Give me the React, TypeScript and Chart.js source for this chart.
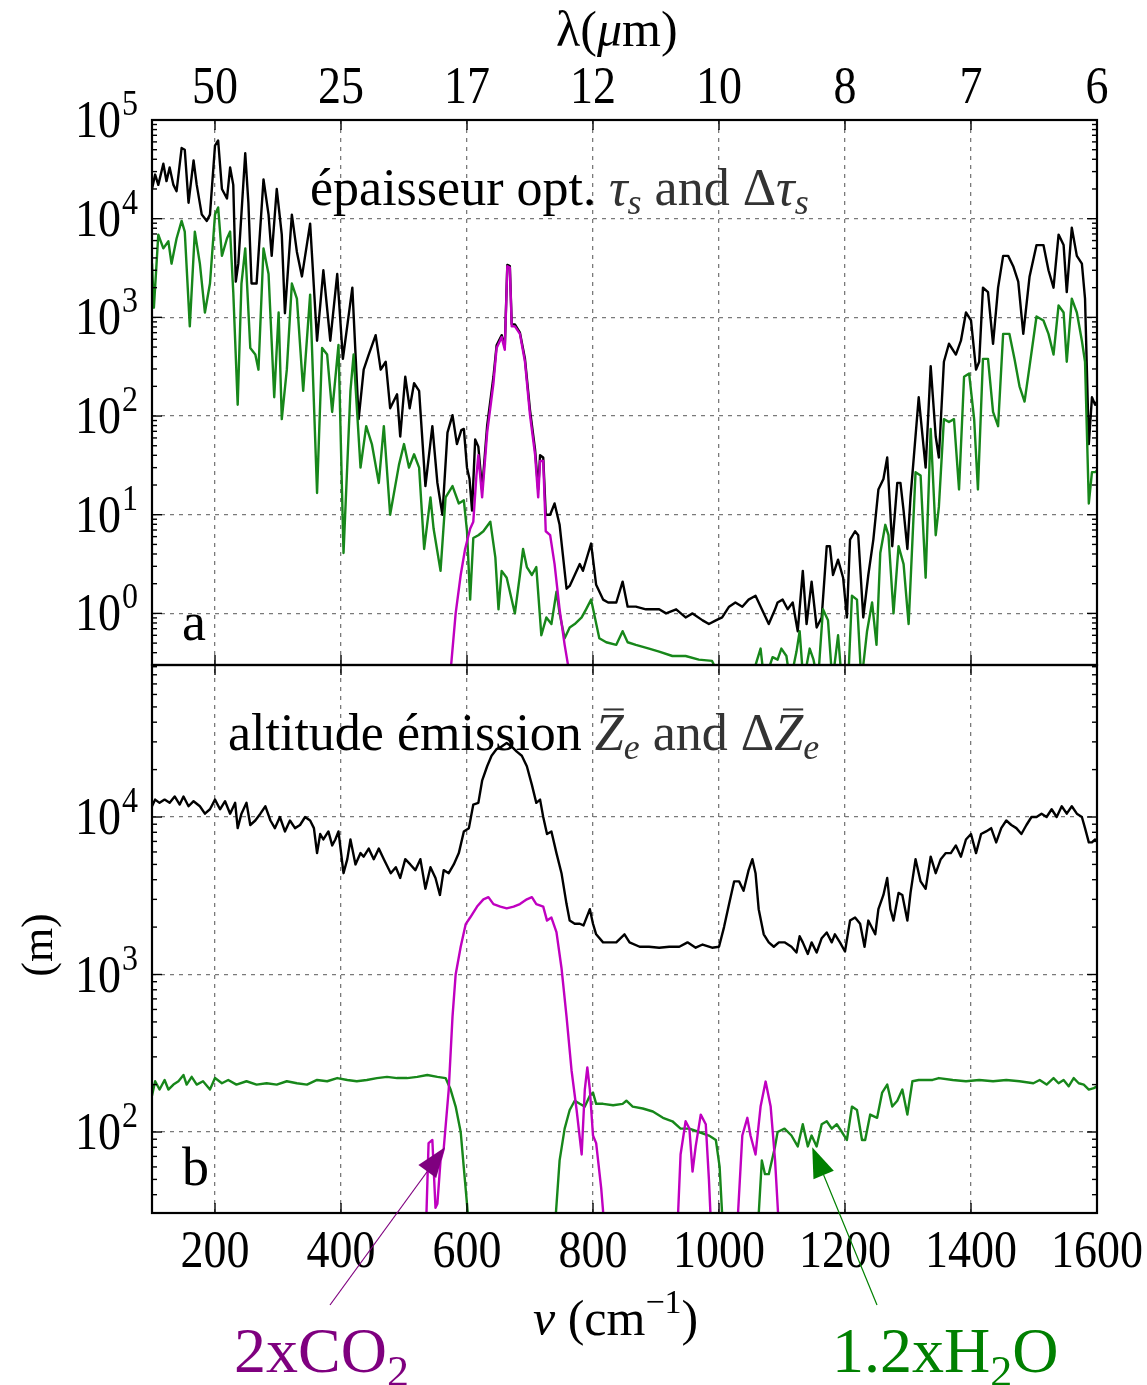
import React, { useEffect, useRef } from 'react';
import { Chart, registerables } from 'chart.js';

Chart.register(...registerables);

// ---------------- data ----------------
const xTickValues = [200, 400, 600, 800, 1000, 1200, 1400, 1600];
const xTickLabels = ['200', '400', '600', '800', '1000', '1200', '1400', '1600'];
const lambdaTickLabels = ['50', '25', '17', '12', '10', '8', '7', '6'];
const gridXValues = [200, 400, 600, 800, 1000, 1200, 1400];
const panelADecades = [1, 10, 100, 1000, 10000, 100000];
const panelBDecades = [100, 1000, 10000];

// panel a : optical thickness tau_s (black), delta tau H2O (green), delta tau CO2 (magenta)  [nu (cm-1), value]
const tauTotal: [number, number][] = [
  [100, 20000], [105, 28000], [110, 22000], [118, 36000], [123, 24000], [128, 33000], [134, 22000], [139, 19000],
  [147, 52000], [152, 50000], [158, 14500], [166, 39000], [171, 22000], [179, 11000], [187, 9500], [192, 11000],
  [200, 55000], [205, 62000], [211, 20000], [219, 16000], [224, 33000], [229, 22000], [233, 2300], [237, 3500],
  [248, 46000], [253, 14500], [258, 2200], [266, 2200], [277, 25000], [285, 11000], [290, 4200], [298, 20000],
  [306, 6900], [311, 1100], [322, 11000], [330, 4600], [338, 2600], [351, 8900], [362, 580], [372, 3000],
  [383, 580], [394, 2750], [403, 380], [418, 2000], [428, 93], [436, 295], [444, 420], [455, 660],
  [463, 295], [471, 355], [478, 120], [489, 166], [494, 62], [502, 250], [509, 120], [516, 215],
  [524, 180], [534, 19.5], [545, 79], [553, 21], [561, 10], [569, 68], [577, 102], [584, 52],
  [591, 72], [595, 74], [600, 30], [604, 23], [608, 11], [613, 58], [618, 49], [624, 18],
  [632, 80], [642, 250], [647, 520], [655, 660], [660, 500], [664, 3400], [668, 3300], [671, 850],
  [676, 850], [684, 700], [692, 380], [700, 115], [708, 46], [713, 18], [716, 40], [721, 38],
  [725, 10], [732, 10], [739, 13], [747, 7.9], [758, 1.78], [763, 1.9], [771, 2.45], [779, 3.16],
  [784, 2.7], [792, 4.0], [797, 5.1], [805, 1.95], [816, 1.38], [824, 1.29], [837, 1.29], [847, 2.1],
  [855, 1.17], [868, 1.17], [884, 1.1], [905, 1.1], [916, 1.0], [932, 1.1], [947, 0.91], [958, 1.0],
  [974, 0.85], [984, 0.78], [995, 0.85], [1005, 0.91], [1016, 1.17], [1026, 1.29], [1037, 1.17], [1047, 1.38],
  [1058, 1.51], [1068, 1.1], [1079, 0.78], [1089, 1.1], [1093, 1.29], [1101, 1.38], [1109, 1.1], [1117, 1.29],
  [1125, 0.66], [1133, 2.7], [1139, 0.78], [1147, 2.1], [1155, 0.72], [1163, 0.91], [1171, 4.8], [1176, 4.8],
  [1181, 2.45], [1189, 3.5], [1197, 2.3], [1203, 0.91], [1208, 5.6], [1216, 6.8], [1221, 6.2], [1229, 0.91],
  [1237, 2.45], [1245, 5.6], [1253, 18], [1261, 23], [1267, 38], [1275, 4.8], [1283, 21], [1288, 21],
  [1293, 11], [1299, 4.5], [1304, 15], [1317, 155], [1328, 30], [1336, 320], [1344, 62], [1349, 38],
  [1357, 355], [1365, 540], [1376, 420], [1384, 580], [1392, 1120], [1400, 930], [1408, 295], [1413, 355],
  [1419, 2000], [1427, 1800], [1435, 540], [1443, 2000], [1451, 4200], [1459, 4200], [1467, 3300], [1475, 2300],
  [1483, 680], [1493, 2600], [1504, 5400], [1515, 5400], [1523, 3000], [1531, 2000], [1539, 6900], [1547, 5400],
  [1552, 1800], [1560, 8100], [1568, 4200], [1576, 3500], [1581, 1550], [1587, 52], [1592, 155], [1597, 130],
  [1600, 140],
];

const tauH2O: [number, number][] = [
  [100, 3500], [103, 1250], [110, 6900], [118, 5000], [126, 5900], [131, 3500], [139, 6300], [147, 9500],
  [152, 7400], [160, 810], [168, 7400], [176, 3500], [184, 1120], [192, 2200], [200, 11000], [205, 13000],
  [211, 4200], [219, 6300], [224, 7400], [229, 1800], [236, 130], [242, 2200], [248, 5000], [256, 490],
  [264, 420], [269, 295], [277, 5000], [285, 2750], [294, 155], [301, 1120], [306, 93], [314, 295],
  [322, 2200], [330, 1550], [340, 180], [351, 1700], [362, 16.6], [370, 490], [378, 420], [386, 110],
  [396, 525], [404, 4.1], [415, 180], [420, 420], [431, 30], [440, 79], [449, 52], [460, 21],
  [468, 79], [478, 10], [492, 32], [500, 52], [508, 30], [516, 41], [524, 30], [532, 4.5],
  [542, 15], [547, 7.2], [558, 2.7], [566, 15], [577, 19.5], [587, 13], [595, 14], [600, 6.8],
  [605, 1.38], [610, 5.8], [618, 6.2], [626, 6.8], [637, 8.5], [645, 3.7], [650, 1.1], [655, 2.7],
  [663, 2.3], [676, 1.0], [684, 2.45], [689, 4.5], [695, 2.95], [703, 2.45], [710, 2.95], [718, 0.6],
  [726, 0.91], [734, 0.78], [742, 1.66], [747, 1.0], [755, 0.56], [763, 0.72], [771, 0.78], [782, 0.91],
  [789, 1.1], [797, 1.38], [803, 0.91], [810, 0.56], [821, 0.51], [837, 0.48], [847, 0.66], [855, 0.51],
  [868, 0.48], [889, 0.44], [905, 0.41], [926, 0.37], [947, 0.37], [968, 0.34], [989, 0.33], [1005, 0.2],
  [1030, 0.2], [1050, 0.2], [1060, 0.33], [1066, 0.44], [1072, 0.2], [1085, 0.36], [1093, 0.34], [1099, 0.44],
  [1107, 0.37], [1113, 0.2], [1123, 0.41], [1128, 0.66], [1134, 0.2], [1144, 0.44], [1150, 0.34], [1157, 0.2],
  [1165, 1.1], [1173, 0.85], [1180, 0.2], [1189, 0.6], [1195, 0.2], [1205, 0.2], [1211, 1.51], [1219, 1.38],
  [1226, 0.2], [1235, 0.66], [1243, 1.29], [1250, 0.48], [1256, 4.1], [1264, 7.9], [1269, 6.2], [1277, 1.0],
  [1285, 4.8], [1293, 3.16], [1301, 0.78], [1312, 27], [1320, 25], [1328, 2.3], [1336, 74], [1344, 6.2],
  [1349, 12], [1357, 93], [1365, 87], [1373, 93], [1381, 18], [1389, 250], [1397, 270], [1405, 93],
  [1411, 18], [1419, 380], [1427, 380], [1435, 110], [1443, 79], [1451, 680], [1461, 680], [1469, 380],
  [1477, 200], [1485, 140], [1493, 320], [1504, 1020], [1515, 930], [1523, 680], [1531, 420], [1539, 1320],
  [1547, 1120], [1552, 355], [1560, 1550], [1568, 1120], [1576, 580], [1581, 355], [1587, 13], [1592, 27],
  [1597, 27], [1600, 28],
];

const tauCO2: [number, number][] = [
  [568, 0.2], [575, 0.31], [582, 1.0], [590, 2.45], [597, 4.5], [605, 7.2], [610, 8.5], [615, 25],
  [618, 40], [624, 15], [632, 68], [642, 215], [647, 490], [655, 630], [660, 470], [664, 3300],
  [668, 3200], [671, 810], [676, 810], [684, 680], [692, 355], [700, 102], [708, 41], [713, 15],
  [716, 35], [721, 35], [725, 6.8], [732, 6.2], [739, 3.16], [747, 1.1], [755, 0.48], [760, 0.31],
  [765, 0.2],
];

// panel b : emission altitude Ze (black), delta Ze H2O (green), delta Ze CO2 (magenta)  [nu (cm-1), metres]
const zeTotal: [number, number][] = [
  [100, 11700], [105, 12900], [112, 12300], [120, 12900], [128, 12300], [136, 13500], [144, 12000], [150, 13500],
  [158, 11700], [166, 12600], [176, 11700], [184, 10500], [192, 11200], [200, 12900], [208, 11200], [216, 12600],
  [224, 10500], [232, 12300], [236, 8500], [242, 10500], [250, 12300], [256, 8900], [264, 9500], [272, 10500],
  [280, 11700], [288, 9500], [295, 8500], [303, 10000], [311, 8100], [319, 9500], [327, 8500], [335, 8900],
  [343, 10000], [351, 9500], [357, 8500], [362, 5900], [367, 7800], [372, 7200], [380, 8100], [386, 6600],
  [391, 7200], [396, 8100], [404, 4400], [410, 5400], [415, 7200], [423, 5000], [431, 5900], [436, 5600],
  [444, 6300], [452, 5400], [460, 6300], [468, 5400], [479, 4400], [487, 4800], [494, 4100], [502, 5400],
  [510, 5000], [518, 4600], [526, 5400], [534, 3500], [542, 4800], [550, 4100], [557, 3200], [563, 4600],
  [571, 4400], [579, 5000], [587, 5900], [595, 8100], [603, 8500], [610, 12000], [618, 12300], [624, 17000],
  [632, 21000], [639, 24500], [647, 27000], [655, 28000], [663, 29500], [671, 28000], [679, 26000], [687, 24500],
  [695, 21000], [703, 16000], [710, 12300], [716, 12900], [721, 10000], [727, 7800], [734, 8100], [742, 5900],
  [750, 4400], [758, 2800], [763, 2200], [771, 2100], [779, 2100], [785, 2050], [795, 2600], [800, 2100],
  [805, 1800], [816, 1600], [826, 1600], [837, 1600], [850, 1800], [858, 1600], [874, 1500], [889, 1500],
  [905, 1480], [921, 1500], [937, 1500], [950, 1600], [963, 1480], [974, 1550], [989, 1480], [1000, 1500],
  [1008, 2000], [1016, 2800], [1024, 3900], [1032, 3900], [1039, 3400], [1047, 4600], [1053, 5400], [1058, 4400],
  [1063, 2600], [1071, 1800], [1079, 1600], [1087, 1500], [1095, 1600], [1104, 1600], [1115, 1500], [1123, 1380],
  [1128, 1750], [1133, 1600], [1141, 1350], [1147, 1600], [1155, 1380], [1163, 1700], [1171, 1850], [1179, 1600],
  [1184, 1800], [1192, 1600], [1200, 1400], [1208, 2200], [1216, 2300], [1224, 2100], [1231, 1500], [1237, 2200],
  [1248, 1800], [1253, 2600], [1261, 3200], [1267, 4100], [1272, 2600], [1277, 2200], [1285, 3300], [1291, 3200],
  [1299, 2200], [1304, 3300], [1312, 5400], [1320, 3900], [1328, 3500], [1336, 5600], [1344, 4400], [1352, 5400],
  [1360, 5900], [1368, 5900], [1376, 6600], [1384, 5600], [1392, 7200], [1400, 7800], [1408, 5900], [1416, 7800],
  [1424, 8100], [1432, 8500], [1440, 6900], [1448, 8500], [1456, 9500], [1464, 8900], [1472, 8500], [1480, 7800],
  [1488, 8900], [1496, 10000], [1504, 10000], [1512, 10500], [1520, 10000], [1528, 11200], [1536, 10000], [1544, 11700],
  [1552, 10500], [1560, 11700], [1568, 10500], [1576, 10000], [1581, 8500], [1587, 6900], [1592, 6900], [1597, 7200],
  [1600, 7100],
];

const zeH2O: [number, number][] = [
  [100, 170], [105, 210], [112, 186], [120, 214], [126, 186], [134, 200], [142, 210], [150, 230],
  [155, 200], [163, 224], [171, 200], [181, 210], [192, 186], [200, 220], [211, 204], [221, 214],
  [234, 200], [250, 210], [266, 200], [282, 204], [298, 200], [314, 210], [330, 204], [346, 200],
  [362, 214], [378, 210], [394, 220], [410, 214], [425, 210], [441, 214], [457, 220], [473, 224],
  [489, 220], [505, 220], [521, 224], [537, 230], [553, 224], [566, 220], [574, 186], [582, 145],
  [590, 100], [595, 59], [600, 35], [604, 22], [612, 15], [735, 15], [741, 30], [747, 66],
  [755, 105], [763, 138], [771, 158], [779, 151], [787, 145], [795, 170], [800, 178], [805, 151],
  [816, 151], [832, 148], [847, 151], [853, 158], [863, 145], [879, 141], [895, 135], [911, 123],
  [926, 117], [939, 105], [953, 105], [968, 100], [984, 95], [995, 89], [1001, 60], [1005, 30],
  [1010, 15], [1058, 15], [1063, 30], [1068, 66], [1073, 54], [1079, 54], [1089, 81], [1093, 100],
  [1104, 105], [1115, 95], [1125, 81], [1133, 112], [1141, 81], [1147, 95], [1155, 81], [1163, 112],
  [1171, 117], [1179, 105], [1187, 112], [1195, 100], [1203, 89], [1211, 145], [1219, 138], [1227, 89],
  [1232, 89], [1240, 129], [1251, 123], [1259, 178], [1267, 200], [1275, 145], [1283, 158], [1291, 186],
  [1299, 129], [1307, 210], [1317, 214], [1339, 214], [1349, 220], [1371, 214], [1392, 210], [1413, 214],
  [1435, 210], [1456, 214], [1477, 210], [1499, 204], [1509, 214], [1520, 200], [1531, 220], [1539, 204],
  [1547, 214], [1555, 195], [1563, 220], [1571, 204], [1579, 200], [1587, 186], [1595, 190], [1600, 195],
];

const zeCO2: [number, number][] = [
  [528, 15], [535, 25], [539, 85], [545, 89], [550, 33], [553, 35], [558, 66], [563, 78],
  [571, 186], [577, 540], [582, 1000], [590, 1500], [598, 2090], [605, 2300], [616, 2700], [626, 3000],
  [634, 3100], [642, 2800], [653, 2700], [663, 2630], [674, 2700], [684, 2800], [695, 3000], [703, 3100],
  [710, 2800], [721, 2700], [727, 2200], [734, 2300], [742, 1860], [750, 1100], [758, 540], [766, 245],
  [774, 138], [782, 72], [787, 186], [791, 257], [795, 186], [800, 95], [805, 85], [813, 44],
  [818, 25], [825, 15], [928, 15], [935, 30], [939, 72], [947, 117], [953, 105], [958, 56],
  [963, 81], [971, 129], [979, 112], [984, 50], [988, 22], [995, 15], [1022, 15], [1029, 25],
  [1037, 95], [1045, 123], [1050, 95], [1058, 72], [1066, 145], [1074, 209], [1082, 145], [1089, 66],
  [1095, 25], [1100, 15],
];

// arrow targets in data coordinates [nu, metres]
const co2ArrowTip: [number, number] = [565, 80];
const h2oArrowTip: [number, number] = [1148, 80];

// ---------------- styling ----------------
const W = 1147;
const H = 1385;
const SERIF = '"Liberation Serif", "DejaVu Serif", serif';
const GREEN = '#17871a';
const MAGENTA = '#c000c0';
const PURPLE_TXT = '#7f007f';
const GREEN_TXT = '#008000';
const MATH = '#333333';
const TICK_STRETCH = 1.15;

type Run = { t: string; size: number; italic?: boolean; dy?: number; color?: string; bar?: boolean };

function drawRuns(ctx: CanvasRenderingContext2D, x: number, y: number, runs: Run[]) {
  let cx = x;
  ctx.textAlign = 'left';
  ctx.textBaseline = 'alphabetic';
  for (const r of runs) {
    ctx.font = `${r.italic ? 'italic ' : ''}${r.size}px ${SERIF}`;
    ctx.fillStyle = r.color || '#000';
    const yy = y + (r.dy || 0);
    ctx.fillText(r.t, cx, yy);
    const w = ctx.measureText(r.t).width;
    if (r.bar) {
      ctx.save();
      ctx.strokeStyle = r.color || '#000';
      ctx.lineWidth = 2;
      ctx.beginPath();
      ctx.moveTo(cx + w * 0.3, yy - r.size * 0.78);
      ctx.lineTo(cx + w * 1.0, yy - r.size * 0.78);
      ctx.stroke();
      ctx.restore();
    }
    cx += w;
  }
  return cx;
}

function stretchedText(ctx: CanvasRenderingContext2D, text: string, x: number, y: number, size: number, align: CanvasTextAlign) {
  ctx.save();
  ctx.translate(x, y);
  ctx.scale(1, TICK_STRETCH);
  ctx.font = `${size}px ${SERIF}`;
  ctx.textAlign = align;
  ctx.textBaseline = 'alphabetic';
  ctx.fillStyle = '#000';
  ctx.fillText(text, 0, 0);
  ctx.restore();
}

function line(ctx: CanvasRenderingContext2D, x0: number, y0: number, x1: number, y1: number) {
  ctx.beginPath();
  ctx.moveTo(x0, y0);
  ctx.lineTo(x1, y1);
  ctx.stroke();
}

function arrow(ctx: CanvasRenderingContext2D, x0: number, y0: number, x1: number, y1: number, color: string) {
  const ang = Math.atan2(y1 - y0, x1 - x0);
  const hl = 30;
  const hw = 11;
  const bx = x1 - hl * Math.cos(ang);
  const by = y1 - hl * Math.sin(ang);
  ctx.strokeStyle = color;
  ctx.lineWidth = 1.2;
  line(ctx, x0, y0, bx, by);
  ctx.fillStyle = color;
  ctx.beginPath();
  ctx.moveTo(x1, y1);
  ctx.lineTo(bx + hw * Math.sin(ang), by - hw * Math.cos(ang));
  ctx.lineTo(bx - hw * Math.sin(ang), by + hw * Math.cos(ang));
  ctx.closePath();
  ctx.fill();
}

const overlayPlugin = {
  id: 'overlay',
  afterDraw(chart: any) {
    const ctx: CanvasRenderingContext2D = chart.ctx;
    const x = chart.scales.x;
    const yA = chart.scales.yA;
    const yB = chart.scales.yB;
    const L = x.left;
    const R = x.right;
    ctx.save();

    // inward ticks
    ctx.strokeStyle = '#000';
    ctx.lineWidth = 1.4;
    const panels: [any, number[]][] = [[yA, panelADecades], [yB, panelBDecades]];
    for (const [ys] of panels) {
      for (const v of xTickValues) {
        const px = x.getPixelForValue(v);
        line(ctx, px, ys.top, px, ys.top + 10);
        line(ctx, px, ys.bottom, px, ys.bottom - 10);
      }
      const lo = Math.floor(Math.log10(ys.min));
      const hi = Math.ceil(Math.log10(ys.max));
      for (let e = lo; e <= hi; e++) {
        for (let m = 1; m <= 9; m++) {
          const v = m * Math.pow(10, e);
          if (v < ys.min || v > ys.max) continue;
          const py = ys.getPixelForValue(v);
          const len = m === 1 ? 10 : 5;
          line(ctx, L, py, L + len, py);
          line(ctx, R, py, R - len, py);
        }
      }
    }

    // frames
    ctx.lineWidth = 2.2;
    ctx.strokeRect(L, yA.top, R - L, yA.bottom - yA.top);
    ctx.strokeRect(L, yB.top, R - L, yB.bottom - yB.top);

    // x tick labels (bottom) and wavelength labels (top)
    xTickValues.forEach((v, i) => {
      const px = x.getPixelForValue(v);
      stretchedText(ctx, xTickLabels[i], px, 1267, 46, 'center');
      stretchedText(ctx, lambdaTickLabels[i], px, 103, 46, 'center');
    });

    // y tick labels 10^n
    for (const [ys, decs] of panels) {
      for (const v of decs) {
        const py = ys.getPixelForValue(v);
        const exp = String(Math.round(Math.log10(v)));
        ctx.font = `32px ${SERIF}`;
        const sw = ctx.measureText(exp).width;
        const right = 138;
        stretchedText(ctx, exp, right, py - 5, 32, 'right');
        stretchedText(ctx, '10', right - sw - 1, py + 17, 46, 'right');
      }
    }

    // axis titles
    drawRuns(ctx, 556, 46, [
      { t: 'λ', size: 50 },
      { t: '(', size: 50 },
      { t: 'μ', size: 50, italic: true },
      { t: 'm)', size: 50 },
    ]);
    drawRuns(ctx, 533, 1335, [
      { t: 'ν', size: 50, italic: true },
      { t: ' (cm', size: 50 },
      { t: '−1', size: 34, dy: -22 },
      { t: ')', size: 50 },
    ]);
    ctx.save();
    ctx.translate(52, 945);
    ctx.rotate(-Math.PI / 2);
    ctx.font = `44px ${SERIF}`;
    ctx.textAlign = 'center';
    ctx.textBaseline = 'alphabetic';
    ctx.fillStyle = '#000';
    ctx.fillText('(m)', 0, 0);
    ctx.restore();

    // panel titles
    drawRuns(ctx, 310, 205, [
      { t: 'épaisseur opt. ', size: 52 },
      { t: 'τ', size: 52, italic: true, color: MATH },
      { t: 's', size: 36, italic: true, dy: 9, color: MATH },
      { t: ' and ', size: 52, color: MATH },
      { t: 'Δ', size: 52, color: MATH },
      { t: 'τ', size: 52, italic: true, color: MATH },
      { t: 's', size: 36, italic: true, dy: 9, color: MATH },
    ]);
    drawRuns(ctx, 228, 750, [
      { t: 'altitude émission ', size: 52 },
      { t: 'Z', size: 52, italic: true, color: MATH, bar: true },
      { t: 'e', size: 36, italic: true, dy: 9, color: MATH },
      { t: ' and ', size: 52, color: MATH },
      { t: 'Δ', size: 52, color: MATH },
      { t: 'Z', size: 52, italic: true, color: MATH, bar: true },
      { t: 'e', size: 36, italic: true, dy: 9, color: MATH },
    ]);

    // panel letters
    drawRuns(ctx, 182, 640, [{ t: 'a', size: 54 }]);
    drawRuns(ctx, 182, 1185, [{ t: 'b', size: 54 }]);

    // arrows and annotation labels
    arrow(ctx, 330, 1305, x.getPixelForValue(co2ArrowTip[0]), yB.getPixelForValue(co2ArrowTip[1]), PURPLE_TXT);
    arrow(ctx, 877, 1305, x.getPixelForValue(h2oArrowTip[0]), yB.getPixelForValue(h2oArrowTip[1]), GREEN_TXT);
    drawRuns(ctx, 234, 1372, [
      { t: '2xCO', size: 64, color: PURPLE_TXT },
      { t: '2', size: 44, dy: 14, color: PURPLE_TXT },
    ]);
    drawRuns(ctx, 832, 1372, [
      { t: '1.2xH', size: 64, color: GREEN_TXT },
      { t: '2', size: 44, dy: 14, color: GREEN_TXT },
      { t: 'O', size: 64, color: GREEN_TXT },
    ]);

    ctx.restore();
  },
};

function mk(pts: [number, number][], color: string, yAxisID: string) {
  return {
    data: pts.map(([nu, v]) => ({ x: nu, y: v })),
    borderColor: color,
    backgroundColor: color,
    borderWidth: 2.4,
    borderJoinStyle: 'round',
    borderCapStyle: 'round',
    pointRadius: 0,
    fill: false,
    tension: 0,
    xAxisID: 'x',
    yAxisID,
  };
}

const gridStyle = { color: '#7a7a7a', lineWidth: 1.3, drawTicks: false };
const borderStyle = { display: false, dash: [4, 5] };

export default function App() {
  const ref = useRef<HTMLCanvasElement>(null);
  useEffect(() => {
    if (!ref.current) return;
    const chart = new Chart(ref.current, {
      type: 'line',
      data: {
        datasets: [
          mk(tauCO2, MAGENTA, 'yA'),
          mk(tauH2O, GREEN, 'yA'),
          mk(tauTotal, '#000000', 'yA'),
          mk(zeCO2, MAGENTA, 'yB'),
          mk(zeH2O, GREEN, 'yB'),
          mk(zeTotal, '#000000', 'yB'),
        ] as any,
      },
      options: {
        responsive: false,
        animation: false,
        events: [],
        layout: { padding: { left: 0, right: 50, top: 0, bottom: 0 } },
        plugins: { legend: { display: false }, tooltip: { enabled: false }, title: { display: false } },
        scales: {
          x: {
            type: 'linear',
            position: 'bottom',
            min: 100,
            max: 1600,
            ticks: { display: false },
            grid: gridStyle,
            border: borderStyle,
            afterBuildTicks: (s: any) => { s.ticks = gridXValues.map((v) => ({ value: v })); },
            afterFit: (s: any) => { s.height = 172; },
          },
          xTop: {
            type: 'linear',
            position: 'top',
            min: 100,
            max: 1600,
            ticks: { display: false },
            grid: { display: false },
            border: { display: false },
            afterFit: (s: any) => { s.height = 120; },
          },
          yB: {
            type: 'logarithmic',
            position: 'left',
            stack: 'panels',
            stackWeight: 548,
            min: 30.6,
            max: 92300,
            ticks: { display: false },
            grid: gridStyle,
            border: borderStyle,
            afterBuildTicks: (s: any) => { s.ticks = panelBDecades.map((v) => ({ value: v })); },
            afterFit: (s: any) => { s.width = 152; },
          },
          yA: {
            type: 'logarithmic',
            position: 'left',
            stack: 'panels',
            stackWeight: 545,
            min: 0.316,
            max: 100000,
            ticks: { display: false },
            grid: gridStyle,
            border: borderStyle,
            afterBuildTicks: (s: any) => { s.ticks = panelADecades.map((v) => ({ value: v })); },
            afterFit: (s: any) => { s.width = 152; },
          },
        } as any,
      },
      plugins: [overlayPlugin],
    });
    return () => chart.destroy();
  }, []);
  return (
    <div style={{ position: 'absolute', left: 0, top: 0, width: W, height: H, background: '#ffffff' }}>
      <canvas ref={ref} width={W} height={H} style={{ display: 'block', width: W, height: H }} />
    </div>
  );
}
